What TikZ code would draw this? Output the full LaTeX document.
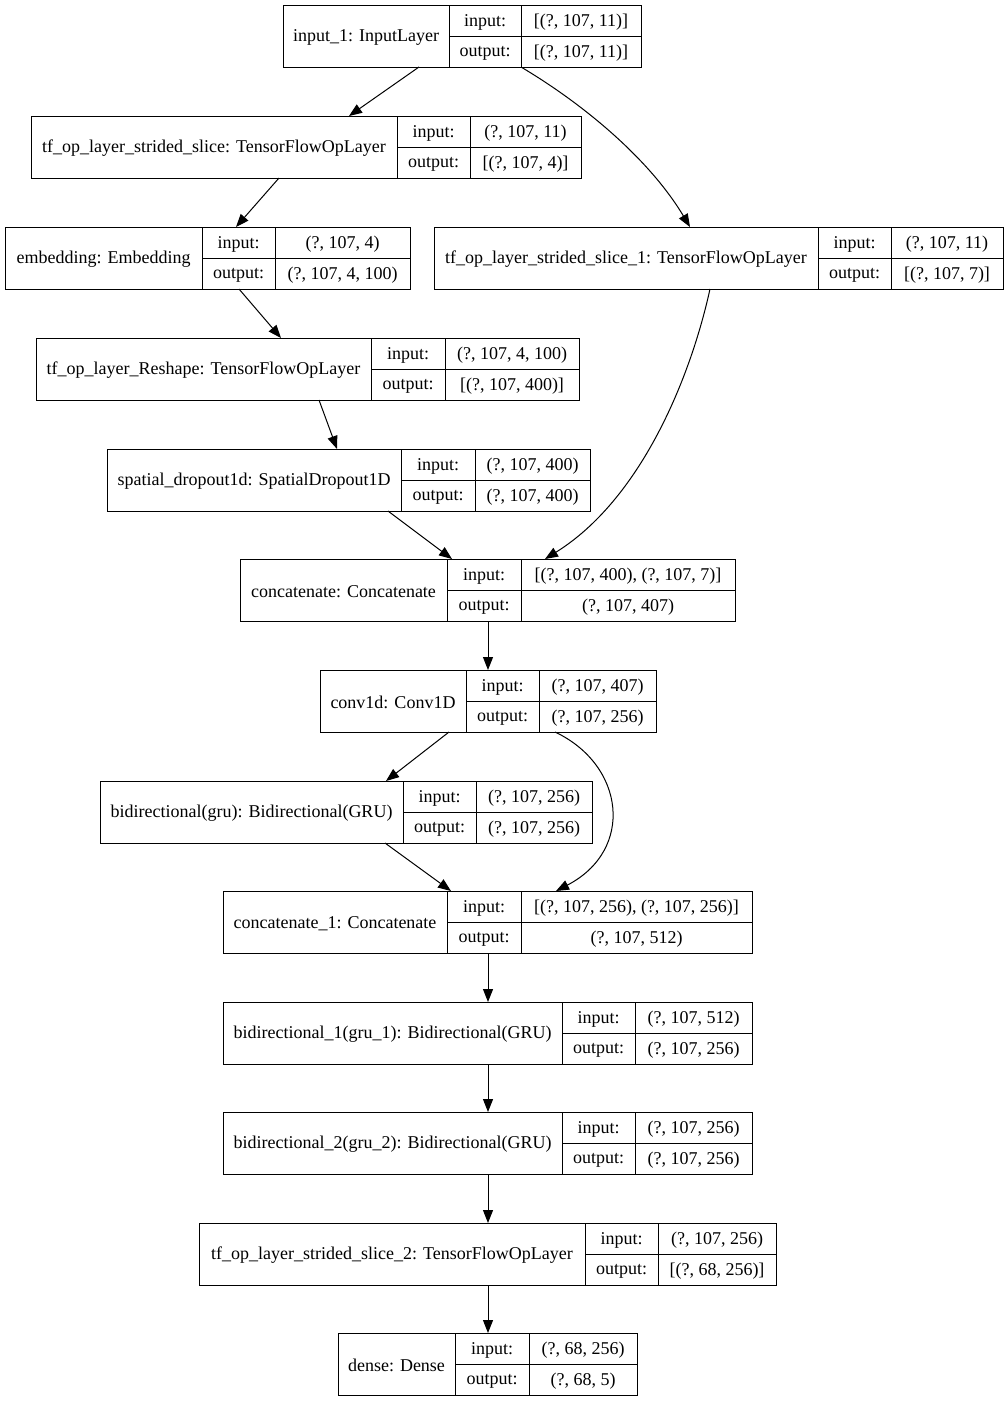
\documentclass[tikz,border=0pt]{standalone}
\usepackage{fontspec}
\setmainfont{Liberation Serif}
\usetikzlibrary{arrows.meta,calc}
\tikzset{
  box/.style={draw=black, line width=1pt, rectangle, inner sep=0pt, outer sep=0pt},
  cell/.style={draw=black, line width=1pt},
  txt/.style={inner sep=0pt, font=\fontsize{18}{20}\selectfont, anchor=center},
  arr/.style={draw=black, line width=1pt, -{Triangle[length=13pt,width=10pt]}}
}
\newcommand\lay[9]{%
  \node[box, minimum width={#4-#2}, minimum height=62] (#1) at ({(#2+#4)/2},{#3+31}) {};
  \draw[cell] (#5,#3) -- ({#5},{#3+62});
  \draw[cell] (#6,#3) -- ({#6},{#3+62});
  \draw[cell] ({#5},{#3+31}) -- (#4,{#3+31});
  \node[txt] (#1-l) at ({(#2+#5)/2},{#3+32.5}) {#7};
  \node[txt] (#1-ik) at ({(#5+#6)/2},{#3+17}) {input:};
  \node[txt] (#1-ok) at ({(#5+#6)/2},{#3+48}) {output:};
  \node[txt] (#1-iv) at ({(#6+#4)/2},{#3+17}) {#8};
  \node[txt] (#1-ov) at ({(#6+#4)/2},{#3+48}) {#9};
}
\begin{document}
\begin{tikzpicture}[x=1pt,y=-1pt]
\fill[white] (0,0) rectangle (1008,1401);
\useasboundingbox (0,0) rectangle (1008,1401);

\lay{in1}{283}{5}{641}{449}{521}{input\_1: InputLayer}{[(?, 107, 11)]}{[(?, 107, 11)]}
\lay{ss}{31}{116}{581}{397}{470}{tf\_op\_layer\_strided\_slice: TensorFlowOpLayer}{(?, 107, 11)}{[(?, 107, 4)]}
\lay{emb}{5}{227}{410}{202}{275}{embedding: Embedding}{(?, 107, 4)}{(?, 107, 4, 100)}
\lay{ssa}{434}{227}{1003}{818}{891}{tf\_op\_layer\_strided\_slice\_1: TensorFlowOpLayer}{(?, 107, 11)}{[(?, 107, 7)]}
\lay{resh}{36}{338}{579}{371}{445}{tf\_op\_layer\_Reshape: TensorFlowOpLayer}{(?, 107, 4, 100)}{[(?, 107, 400)]}
\lay{sd}{107}{449}{590}{401}{475}{spatial\_dropout1d: SpatialDropout1D}{(?, 107, 400)}{(?, 107, 400)}
\lay{cat}{240}{559}{735}{447}{521}{concatenate: Concatenate}{[(?, 107, 400), (?, 107, 7)]}{(?, 107, 407)}
\lay{conv}{320}{670}{656}{466}{539}{conv1d: Conv1D}{(?, 107, 407)}{(?, 107, 256)}
\lay{bg}{100}{781}{592}{403}{476}{bidirectional(gru): Bidirectional(GRU)}{(?, 107, 256)}{(?, 107, 256)}
\lay{cata}{223}{891}{752}{447}{521}{concatenate\_1: Concatenate}{[(?, 107, 256), (?, 107, 256)]}{(?, 107, 512)}
\lay{bga}{223}{1002}{752}{562}{635}{bidirectional\_1(gru\_1): Bidirectional(GRU)}{(?, 107, 512)}{(?, 107, 256)}
\lay{bgb}{223}{1112}{752}{562}{635}{bidirectional\_2(gru\_2): Bidirectional(GRU)}{(?, 107, 256)}{(?, 107, 256)}
\lay{ssb}{199}{1223}{776}{585}{658}{tf\_op\_layer\_strided\_slice\_2: TensorFlowOpLayer}{(?, 107, 256)}{[(?, 68, 256)]}
\lay{dense}{338}{1333}{637}{455}{529}{dense: Dense}{(?, 68, 256)}{(?, 68, 5)}

\draw[arr] (419,0 |- in1.south) -- (349,0 |- ss.north);
\draw[arr] (521,0 |- in1.south) .. controls (585,105) and (650,160) .. (690,0 |- ssa.north);
\draw[arr] (279,0 |- ss.south) -- (236,0 |- emb.north);
\draw[arr] (239,0 |- emb.south) -- (281,0 |- resh.north);
\draw[arr] (710,0 |- ssa.south) .. controls (690,380) and (640,500) .. (545,0 |- cat.north);
\draw[arr] (319,0 |- resh.south) -- (337,0 |- sd.north);
\draw[arr] (388,0 |- sd.south) -- (452,0 |- cat.north);
\draw[arr] (488,0 |- cat.south) -- (488,0 |- conv.north);
\draw[arr] (449,0 |- conv.south) -- (386,0 |- bg.north);
\draw[arr] (555,0 |- conv.south) .. controls (625,765) and (635,850) .. (556,0 |- cata.north);
\draw[arr] (385,0 |- bg.south) -- (451,0 |- cata.north);
\draw[arr] (488,0 |- cata.south) -- (488,0 |- bga.north);
\draw[arr] (488,0 |- bga.south) -- (488,0 |- bgb.north);
\draw[arr] (488,0 |- bgb.south) -- (488,0 |- ssb.north);
\draw[arr] (488,0 |- ssb.south) -- (488,0 |- dense.north);
\end{tikzpicture}
\end{document}
